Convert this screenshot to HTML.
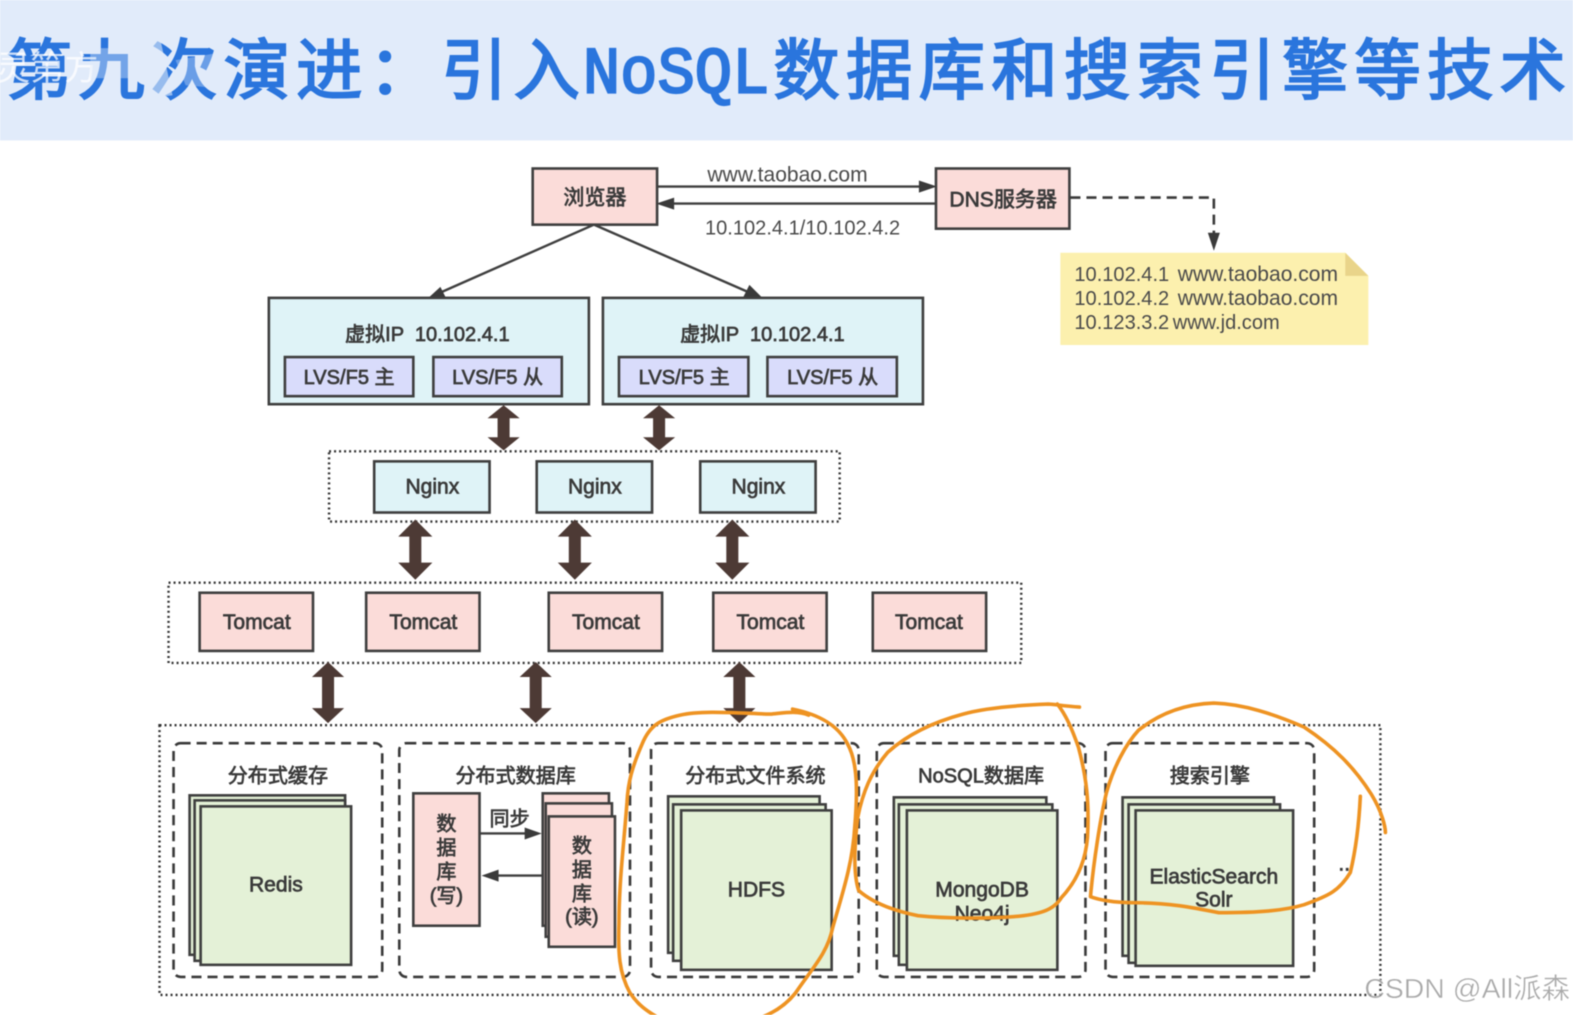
<!DOCTYPE html>
<html><head><meta charset="utf-8"><style>
html,body{margin:0;padding:0;background:#fff;width:1573px;height:1015px;overflow:hidden}
svg{display:block;filter:blur(.5px)}
text{font-family:"Liberation Sans","Noto Sans CJK SC",sans-serif;fill:#3a3a3a}
.b{font-size:21px;text-anchor:middle;stroke:#3a3a3a;stroke-width:.7}
.n{font-size:20px;fill:#4a4a4a}
.w{font-size:21px;fill:#4a4a4a}
.bx{stroke:#3f3f3f;stroke-width:2.6}
.pk{fill:#fbdcd9}.cy{fill:#dff3f7}.vi{fill:#d9dcfb}.gr{fill:#e4f1d7}
.dot{fill:none;stroke:#333;stroke-width:2.4;stroke-dasharray:2 3}
.dash{fill:none;stroke:#3a3a3a;stroke-width:2.6;stroke-dasharray:10 6}
.or{fill:none;stroke:#ee9322;stroke-width:3.6;stroke-linecap:round;stroke-linejoin:round}
.dbl{fill:#4d3a35}
.ln{stroke:#3f3f3f;stroke-width:2.4;fill:none}
.hd{fill:#3a3a3a}
.t{fill:#2a75dd;stroke:#2a75dd;stroke-width:2;font-family:"Noto Sans CJK SC",sans-serif;font-size:66px}
</style></head><body>
<svg width="1573" height="1015" viewBox="0 0 1568 1012" preserveAspectRatio="none" xmlns="http://www.w3.org/2000/svg">
<rect x="0" y="0" width="1568" height="140" fill="#e1ebfa"/>
<text class="t" x="6" y="93" textLength="572" lengthAdjust="spacing">第九次演进：引入</text>
<text x="581" y="92" style="fill:#2a75dd;stroke:#2a75dd;stroke-width:2.2;font-family:'Liberation Mono',monospace;font-size:66px" textLength="186" lengthAdjust="spacingAndGlyphs">NoSQL</text>
<text class="t" x="771" y="93" textLength="790" lengthAdjust="spacing">数据库和搜索引擎等技术</text>
<text x="-4" y="80" style="font-size:34px;fill:#fff;fill-opacity:.75">灵第方</text>
<rect x="90" y="48" width="45" height="30" fill="#e1ebfa" fill-opacity=".4"/>
<path d="M138 45L160 40L172 95L150 98z" fill="#e1ebfa" fill-opacity=".6"/>
<path d="M175 60L222 52L218 88L185 85z" fill="#e1ebfa" fill-opacity=".35"/>

<rect class="bx pk" x="531" y="168" width="124" height="56"/>
<text class="b" x="593" y="204">浏览器</text>
<rect class="bx pk" x="933" y="168" width="133" height="60"/>
<text class="b" x="1000" y="206">DNS服务器</text>
<path class="ln" d="M655 186H920M933 203H668"/>
<path class="hd" d="M934 186l-18-6v12zM654 203l18-6v12z"/>
<text class="w" x="785" y="181" text-anchor="middle">www.taobao.com</text>
<text class="n" x="800" y="234" text-anchor="middle">10.102.4.1/10.102.4.2</text>
<path class="dash" d="M1067 197H1210V238"/>
<path class="hd" d="M1210 250l-6-18h12z"/>
<path d="M1057 252H1341L1364 275V344H1057z" fill="#fcf0ae"/>
<path d="M1341 252L1364 275H1341z" fill="#e9d48a"/>
<text class="n" x="1071" y="280">10.102.4.1</text><text class="w" x="1174" y="280">www.taobao.com</text>
<text class="n" x="1071" y="304">10.102.4.2</text><text class="w" x="1174" y="304">www.taobao.com</text>
<text class="n" x="1071" y="328">10.123.3.2</text><text class="n" x="1169" y="328">www.jd.com</text>

<path class="ln" d="M592 224L436 293M592 224L750 293"/>
<path class="hd" d="M427 297l12-11 6 12zM760 297l-19-1 6-12z"/>

<rect class="bx cy" x="268" y="297" width="319" height="106"/>
<rect class="bx cy" x="601" y="297" width="319" height="106"/>
<text class="b" x="426" y="340" style="font-size:20px" xml:space="preserve">虚拟IP  10.102.4.1</text>
<text class="b" x="760" y="340" style="font-size:20px" xml:space="preserve">虚拟IP  10.102.4.1</text>
<rect class="bx vi" x="284" y="356" width="128" height="39"/>
<rect class="bx vi" x="432" y="356" width="128" height="39"/>
<rect class="bx vi" x="617" y="356" width="129" height="39"/>
<rect class="bx vi" x="765" y="356" width="129" height="39"/>
<text class="b" x="348" y="383" style="font-size:20px">LVS/F5 主</text>
<text class="b" x="496" y="383" style="font-size:20px">LVS/F5 从</text>
<text class="b" x="682" y="383" style="font-size:20px">LVS/F5 主</text>
<text class="b" x="830" y="383" style="font-size:20px">LVS/F5 从</text>

<path class="dbl" d="M502 404l16 13h-10v19h10l-16 13-16-13h10v-19h-10z"/>
<path class="dbl" d="M657 404l16 13h-10v19h10l-16 13-16-13h10v-19h-10z"/>

<rect class="dot" x="328" y="450" width="509" height="70"/>
<rect class="bx cy" x="373" y="460" width="115" height="51"/>
<rect class="bx cy" x="535" y="460" width="115" height="51"/>
<rect class="bx cy" x="698" y="460" width="115" height="51"/>
<text class="b" x="431" y="492">Nginx</text>
<text class="b" x="593" y="492">Nginx</text>
<text class="b" x="756" y="492">Nginx</text>

<path class="dbl" d="M414 518l17 17h-11v26h11l-17 17-17-17h11v-26h-11z"/>
<path class="dbl" d="M573 518l17 17h-11v26h11l-17 17-17-17h11v-26h-11z"/>
<path class="dbl" d="M730 518l17 17h-11v26h11l-17 17-17-17h11v-26h-11z"/>

<rect class="dot" x="168" y="581" width="850" height="80"/>
<rect class="bx pk" x="199" y="591" width="113" height="58"/>
<rect class="bx pk" x="365" y="591" width="113" height="58"/>
<rect class="bx pk" x="547" y="591" width="113" height="58"/>
<rect class="bx pk" x="711" y="591" width="113" height="58"/>
<rect class="bx pk" x="870" y="591" width="113" height="58"/>
<text class="b" x="256" y="627">Tomcat</text>
<text class="b" x="422" y="627">Tomcat</text>
<text class="b" x="604" y="627">Tomcat</text>
<text class="b" x="768" y="627">Tomcat</text>
<text class="b" x="926" y="627">Tomcat</text>

<path class="dbl" d="M327 660l16 15h-10v31h10l-16 15-16-15h10v-31h-10z"/>
<path class="dbl" d="M534 660l16 15h-10v31h10l-16 15-16-15h10v-31h-10z"/>
<path class="dbl" d="M737 660l16 15h-10v31h10l-16 15-16-15h10v-31h-10z"/>

<rect class="dot" x="159" y="723" width="1217" height="269"/>
<rect class="dash" x="173" y="741" width="208" height="233" rx="7"/>
<rect class="dash" x="398" y="741" width="230" height="233" rx="7"/>
<rect class="dash" x="649" y="741" width="207" height="233" rx="7"/>
<rect class="dash" x="874" y="741" width="208" height="233" rx="7"/>
<rect class="dash" x="1102" y="741" width="208" height="233" rx="7"/>
<text class="b" x="277" y="780" style="font-size:20px">分布式缓存</text>
<text class="b" x="514" y="780" style="font-size:20px">分布式数据库</text>
<text class="b" x="753" y="780" style="font-size:20px">分布式文件系统</text>
<text class="b" x="978" y="780" style="font-size:20px">NoSQL数据库</text>
<text class="b" x="1206" y="780" style="font-size:20px">搜索引擎</text>

<rect class="bx gr" x="189" y="793" width="155" height="159"/>
<rect class="bx gr" x="194" y="798" width="150" height="160"/>
<rect class="bx gr" x="200" y="804" width="150" height="158"/>
<text class="b" x="275" y="889">Redis</text>

<rect class="bx pk" x="412" y="791" width="66" height="132"/>
<rect class="bx pk" x="541" y="791" width="66" height="132"/>
<rect class="bx pk" x="544" y="801" width="66" height="133"/>
<rect class="bx pk" x="547" y="814" width="66" height="130"/>
<text class="b" x="445" y="828" style="font-size:20px">数</text>
<text class="b" x="445" y="852" style="font-size:20px">据</text>
<text class="b" x="445" y="876" style="font-size:20px">库</text>
<text class="b" x="445" y="900" style="font-size:20px">(写)</text>
<text class="b" x="580" y="850" style="font-size:20px">数</text>
<text class="b" x="580" y="874" style="font-size:20px">据</text>
<text class="b" x="580" y="898" style="font-size:20px">库</text>
<text class="b" x="580" y="921" style="font-size:20px">(读)</text>
<text class="b" x="508" y="823" style="font-size:20px">同步</text>
<path class="ln" d="M478 831H525M541 873H495"/>
<path class="hd" d="M540 831l-17-6v12zM480 873l17-6v12z"/>

<rect class="bx gr" x="666" y="794" width="151" height="156"/>
<rect class="bx gr" x="671" y="802" width="152" height="156"/>
<rect class="bx gr" x="679" y="808" width="150" height="159"/>
<text class="b" x="754" y="894">HDFS</text>

<rect class="bx gr" x="891" y="795" width="152" height="158"/>
<rect class="bx gr" x="896" y="802" width="153" height="160"/>
<rect class="bx gr" x="904" y="808" width="150" height="159"/>
<text class="b" x="979" y="894">MongoDB</text>
<text class="b" x="979" y="918">Neo4j</text>

<rect class="bx gr" x="1119" y="795" width="151" height="158"/>
<rect class="bx gr" x="1125" y="802" width="151" height="158"/>
<rect class="bx gr" x="1132" y="808" width="157" height="155"/>
<text class="b" x="1210" y="881">ElasticSearch</text>
<text class="b" x="1210" y="904">Solr</text>
<text class="b" x="1340" y="868">..</text>

<path class="or" d="M806 713C795 708 780 711 768 712C735 711 700 708 678 713C660 717 648 722 640 742C630 765 626 780 625 800C622 840 617 880 617 920C616 950 617 970 628 990C636 1002 645 1008 655 1014M760 1014C775 1008 785 1000 793 990C810 965 825 950 830 925C840 890 850 860 852 825C855 790 855 760 845 742C835 722 815 712 790 707"/>
<path class="or" d="M1076 705C1060 704 1050 702 1045 702C1020 703 985 705 960 712C930 720 905 732 885 750C868 770 860 790 855 815C852 840 850 870 856 888C870 900 890 908 915 913C945 916 985 916 1010 914C1035 912 1050 908 1058 895C1072 880 1082 860 1084 835C1086 800 1083 775 1075 745C1068 725 1062 712 1054 702"/>
<path class="or" d="M1356 794C1355 815 1352 845 1346 870C1335 888 1325 893 1300 902C1280 908 1255 910 1215 910C1190 905 1165 900 1130 900C1110 900 1095 897 1087 894C1090 860 1097 815 1103 790C1110 765 1122 742 1135 728C1155 712 1180 702 1210 701C1240 702 1270 712 1300 725C1330 745 1350 765 1367 792C1378 810 1381 825 1381 830"/>

<text x="1360" y="995" style="font-size:28px;fill:#9a9a9a;fill-opacity:.85;stroke:#fff;stroke-width:.4" textLength="205" lengthAdjust="spacingAndGlyphs">CSDN @All派森</text>
</svg>
</body></html>
